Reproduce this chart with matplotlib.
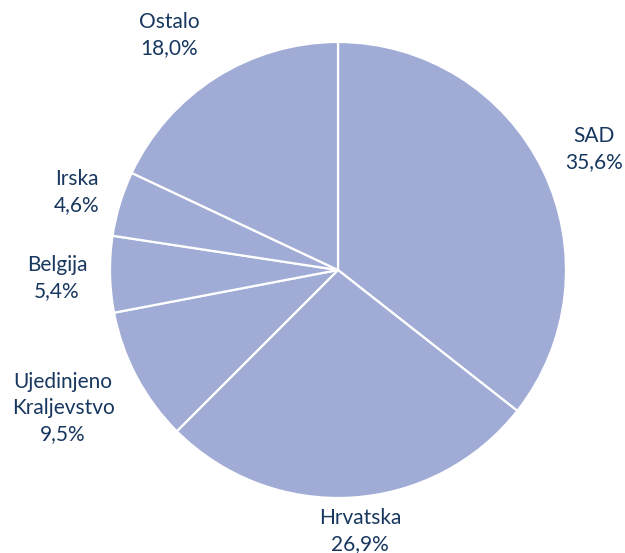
import matplotlib
matplotlib.use("Agg")
import matplotlib.pyplot as plt

# udjeli po zemljama (%)
countries = ["SAD", "Hrvatska", "Ujedinjeno\nKraljevstvo", "Belgija", "Irska", "Ostalo"]
shares = [35.6, 26.9, 9.5, 5.4, 4.6, 18.0]
value_labels = ["35,6%", "26,9%", "9,5%", "5,4%", "4,6%", "18,0%"]

# sredista natpisa (pikseli od gornjeg lijevog kuta)
label_xy = [(594, 149), (360, 531), (63, 408), (57, 278), (77, 192), (169, 35)]

plt.rcParams['font.family'] = ['Lato', 'DejaVu Sans']

fig = plt.figure(figsize=(6.25, 5.53), dpi=100)
ax = fig.add_axes([0, 0, 1, 1])

R = 228
cx, cy = 338, 553 - 270
wedges, _ = ax.pie(shares, startangle=90, counterclock=False, radius=R,
                   center=(cx, cy), colors=['#a0acd6'] * len(shares),
                   wedgeprops=dict(edgecolor='white', linewidth=1.6))

for name, val, (x, y) in zip(countries, value_labels, label_xy):
    ax.text(x, 553 - y, name + "\n" + val, ha='center', va='center',
            fontsize=15, color='#17375e', linespacing=1.4)

ax.set_xlim(0, 625)
ax.set_ylim(0, 553)
ax.set_aspect('equal')
ax.axis('off')

fig.savefig("out.png", dpi=100)
